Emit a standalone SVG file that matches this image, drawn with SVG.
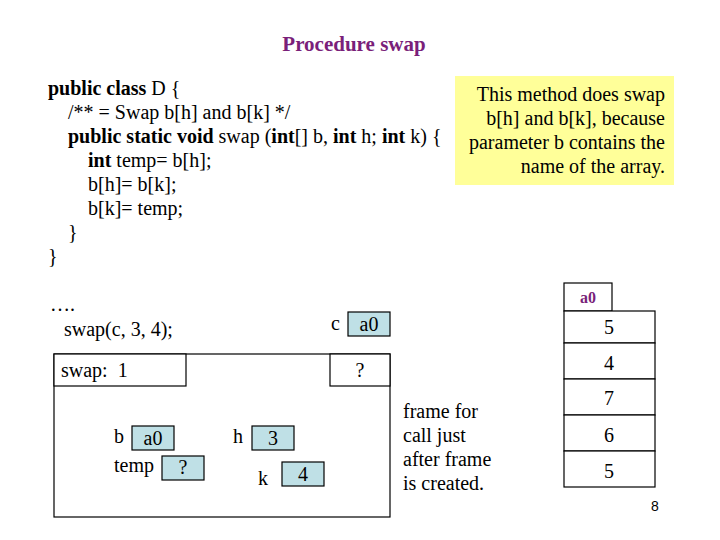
<svg xmlns="http://www.w3.org/2000/svg" width="720" height="540" viewBox="0 0 720 540">
<style>
text{font-family:"Liberation Serif",serif;font-size:20px;fill:#000}
.b{font-weight:bold}
.box{fill:#fff;stroke:#000;stroke-width:1.2}
.var{fill:#bfe0e6;stroke:#000;stroke-width:1.2}
.c{text-anchor:middle}
</style>
<rect width="720" height="540" fill="#fff"/>
<text x="354" y="51" class="b c" style="fill:#7a1f7a;font-size:21px">Procedure swap</text>
<g id="code">
<text x="48" y="95"><tspan class="b">public class</tspan> D {</text>
<text x="68" y="119">/** = Swap b[h] and b[k] */</text>
<text x="68" y="143"><tspan class="b">public static void</tspan> swap (<tspan class="b">int</tspan>[] b, <tspan class="b">int</tspan> h; <tspan class="b">int</tspan> k) {</text>
<text x="88" y="167"><tspan class="b">int</tspan> temp= b[h];</text>
<text x="88" y="191">b[h]= b[k];</text>
<text x="88" y="215">b[k]= temp;</text>
<text x="68" y="239">}</text>
<text x="48" y="263">}</text>
</g>
<g id="note">
<rect x="455" y="76" width="219" height="109" fill="#ffff99"/>
<text x="665" y="101" style="text-anchor:end">This method does swap</text>
<text x="665" y="125" style="text-anchor:end">b[h] and b[k], because</text>
<text x="665" y="149" style="text-anchor:end">parameter b contains the</text>
<text x="665" y="173" style="text-anchor:end">name of the array.</text>
</g>
<g id="call">
<text x="50" y="311">….</text>
<text x="64" y="336">swap(c, 3, 4);</text>
<text x="331" y="330">c</text>
<rect class="var" x="348" y="312" width="42" height="24"/>
<text x="369" y="331" class="c">a0</text>
</g>
<g id="frame">
<rect class="box" x="54" y="354" width="336" height="163"/>
<rect class="box" x="54" y="354" width="132" height="32"/>
<text x="61" y="377" xml:space="preserve">swap:  1</text>
<rect class="box" x="330" y="354" width="60" height="32"/>
<text x="360" y="377" class="c">?</text>
<text x="114" y="443">b</text>
<rect class="var" x="132" y="426" width="42" height="24"/>
<text x="153" y="445" class="c">a0</text>
<text x="114" y="472">temp</text>
<rect class="var" x="162" y="456" width="42" height="24"/>
<text x="183" y="474" class="c">?</text>
<text x="233" y="443">h</text>
<rect class="var" x="252" y="426" width="42" height="24"/>
<text x="273" y="445" class="c">3</text>
<text x="258" y="485">k</text>
<rect class="var" x="282" y="462" width="42" height="24"/>
<text x="303" y="481" class="c">4</text>
</g>
<g id="label">
<text x="403" y="418">frame for</text>
<text x="403" y="442">call just</text>
<text x="403" y="466">after frame</text>
<text x="403" y="490">is created.</text>
</g>
<g id="array">
<rect class="box" x="564" y="283" width="48" height="28"/>
<text x="588" y="303" class="b c" style="fill:#7a1f7a;font-size:16px">a0</text>
<rect class="box" x="564" y="311" width="91" height="32"/>
<text x="609" y="334" class="c">5</text>
<rect class="box" x="564" y="343" width="91" height="36"/>
<text x="609" y="370" class="c">4</text>
<rect class="box" x="564" y="379" width="91" height="36"/>
<text x="609" y="405" class="c">7</text>
<rect class="box" x="564" y="415" width="91" height="36"/>
<text x="609" y="442" class="c">6</text>
<rect class="box" x="564" y="451" width="91" height="36"/>
<text x="609" y="478" class="c">5</text>
</g>
<g id="connectors"></g>
<text x="655" y="511" class="c" style="font-family:'Liberation Sans',sans-serif;font-size:14px">8</text>
</svg>
